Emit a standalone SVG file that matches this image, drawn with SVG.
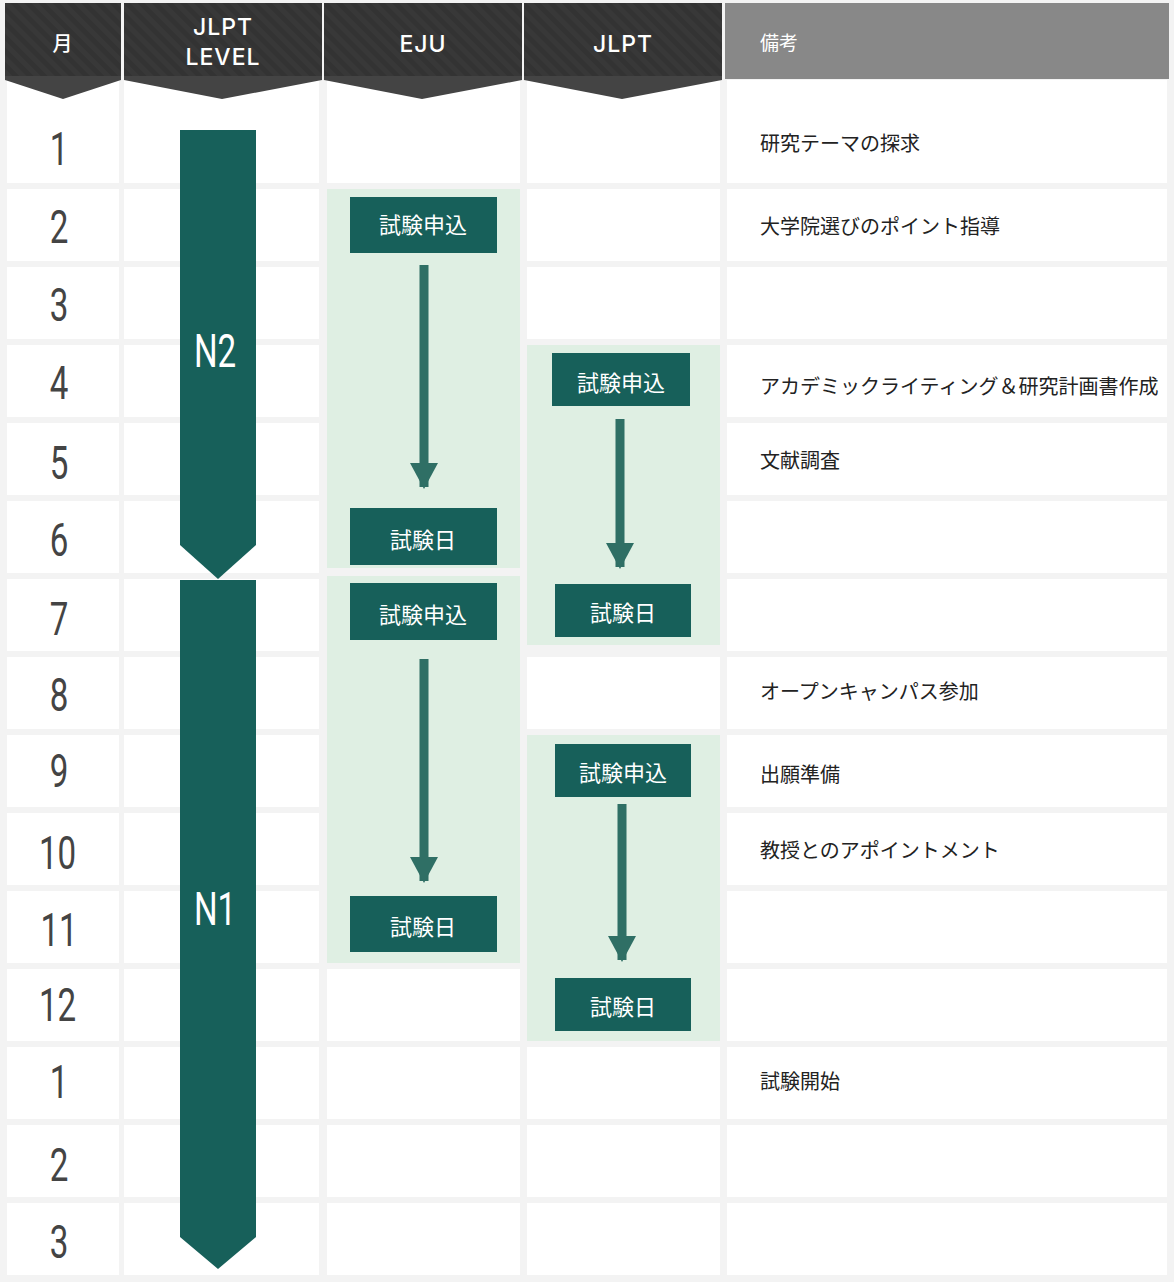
<svg xmlns="http://www.w3.org/2000/svg" width="1174" height="1282" viewBox="0 0 1174 1282">
<defs>
<pattern id="st" width="10" height="10" patternUnits="userSpaceOnUse" patternTransform="rotate(-45)"><rect width="10" height="10" fill="#333"/><rect width="5" height="10" fill="#383838"/></pattern>
<marker id="ah" markerWidth="26" markerHeight="28" refX="24" refY="14" orient="auto" markerUnits="userSpaceOnUse" viewBox="0 0 26 28"><path d="M0,0 L26,14 L0,28 Z" fill="#2f6f65"/></marker>
</defs>
<style>
.c{fill:#fff}.h{font-family:Inter,"Liberation Sans",sans-serif;font-weight:500;font-size:23px;fill:#fff;text-anchor:middle;letter-spacing:1px}
.m{font-family:Roboto,"Liberation Sans",sans-serif;font-size:46px;fill:#444;text-anchor:middle}
.band{fill:#dfefe3}.box{fill:#17605a}
.bt{font-family:"Noto Sans CJK JP",sans-serif;font-size:22px;fill:#fff;text-anchor:middle}
.n{font-family:"Noto Sans CJK JP",sans-serif;font-size:20px;fill:#222}
.ar{stroke:#2f6f65;stroke-width:9;marker-end:url(#ah)}
.lv{font-family:Roboto,"Liberation Sans",sans-serif;font-size:46px;fill:#fff;text-anchor:middle}
</style>
<rect width="1174" height="1282" fill="#f3f3f3"/>
<g id="header">
<rect x="5" y="3" width="116" height="76" fill="url(#st)"/>
<rect x="124" y="3" width="198" height="76" fill="url(#st)"/>
<rect x="324" y="3" width="198" height="76" fill="url(#st)"/>
<rect x="524" y="3" width="198" height="76" fill="url(#st)"/>
<rect x="725" y="3" width="444" height="76" fill="#888"/>
<rect x="5" y="76" width="116" height="4" fill="#444"/>
<rect x="124" y="76" width="198" height="4" fill="#444"/>
<rect x="324" y="76" width="198" height="4" fill="#444"/>
<rect x="524" y="76" width="198" height="4" fill="#444"/>
<text x="63" y="51" class="h" style="font-family:'Noto Sans CJK JP',sans-serif;font-size:20px">月</text>
<text x="223" y="35" class="h">JLPT</text><text x="223" y="65" class="h">LEVEL</text>
<text x="423" y="52" class="h">EJU</text>
<text x="623" y="52" class="h">JLPT</text>
<text x="760" y="50" style="font-family:'Noto Sans CJK JP',sans-serif;font-size:19px;fill:#fff">備考</text>
</g>
<g id="grid">
<rect x="7" y="80" width="112" height="103" class="c"/><rect x="124" y="80" width="195" height="103" class="c"/><rect x="327" y="80" width="193" height="103" class="c"/><rect x="527" y="80" width="193" height="103" class="c"/><rect x="727" y="80" width="440" height="103" class="c"/>
<rect x="7" y="189" width="112" height="72" class="c"/><rect x="7" y="267" width="112" height="72" class="c"/><rect x="7" y="345" width="112" height="72" class="c"/><rect x="7" y="423" width="112" height="72" class="c"/><rect x="7" y="501" width="112" height="72" class="c"/><rect x="7" y="579" width="112" height="72" class="c"/><rect x="7" y="657" width="112" height="72" class="c"/><rect x="7" y="735" width="112" height="72" class="c"/><rect x="7" y="813" width="112" height="72" class="c"/><rect x="7" y="891" width="112" height="72" class="c"/><rect x="7" y="969" width="112" height="72" class="c"/><rect x="7" y="1047" width="112" height="72" class="c"/><rect x="7" y="1125" width="112" height="72" class="c"/><rect x="7" y="1203" width="112" height="72" class="c"/>
<rect x="124" y="189" width="195" height="72" class="c"/><rect x="124" y="267" width="195" height="72" class="c"/><rect x="124" y="345" width="195" height="72" class="c"/><rect x="124" y="423" width="195" height="72" class="c"/><rect x="124" y="501" width="195" height="72" class="c"/><rect x="124" y="579" width="195" height="72" class="c"/><rect x="124" y="657" width="195" height="72" class="c"/><rect x="124" y="735" width="195" height="72" class="c"/><rect x="124" y="813" width="195" height="72" class="c"/><rect x="124" y="891" width="195" height="72" class="c"/><rect x="124" y="969" width="195" height="72" class="c"/><rect x="124" y="1047" width="195" height="72" class="c"/><rect x="124" y="1125" width="195" height="72" class="c"/><rect x="124" y="1203" width="195" height="72" class="c"/>
<rect x="327" y="969" width="193" height="72" class="c"/><rect x="327" y="1047" width="193" height="72" class="c"/><rect x="327" y="1125" width="193" height="72" class="c"/><rect x="327" y="1203" width="193" height="72" class="c"/>
<rect x="527" y="189" width="193" height="72" class="c"/><rect x="527" y="267" width="193" height="72" class="c"/><rect x="527" y="657" width="193" height="72" class="c"/><rect x="527" y="1047" width="193" height="72" class="c"/><rect x="527" y="1125" width="193" height="72" class="c"/><rect x="527" y="1203" width="193" height="72" class="c"/>
<rect x="727" y="189" width="440" height="72" class="c"/><rect x="727" y="267" width="440" height="72" class="c"/><rect x="727" y="345" width="440" height="72" class="c"/><rect x="727" y="423" width="440" height="72" class="c"/><rect x="727" y="501" width="440" height="72" class="c"/><rect x="727" y="579" width="440" height="72" class="c"/><rect x="727" y="657" width="440" height="72" class="c"/><rect x="727" y="735" width="440" height="72" class="c"/><rect x="727" y="813" width="440" height="72" class="c"/><rect x="727" y="891" width="440" height="72" class="c"/><rect x="727" y="969" width="440" height="72" class="c"/><rect x="727" y="1047" width="440" height="72" class="c"/><rect x="727" y="1125" width="440" height="72" class="c"/><rect x="727" y="1203" width="440" height="72" class="c"/>
<path d="M5,80 L63,99 L121,80Z" fill="#444"/>
<path d="M124,80 L222,99 L322,80Z" fill="#444"/>
<path d="M324,80 L422,99 L522,80Z" fill="#444"/>
<path d="M524,80 L622,99 L722,80Z" fill="#444"/>
</g>
<g id="months">
<g transform="scale(0.72,1)">
<text x="82" y="165" class="m">1</text><text x="82" y="243" class="m">2</text><text x="82" y="321" class="m">3</text><text x="82" y="399" class="m">4</text><text x="82" y="479" class="m">5</text><text x="82" y="556" class="m">6</text><text x="82" y="635" class="m">7</text><text x="82" y="711" class="m">8</text><text x="82" y="787" class="m">9</text><text x="80" y="869" class="m">10</text><text x="82" y="946" class="m">11</text><text x="80" y="1021" class="m">12</text><text x="82" y="1098" class="m">1</text><text x="82" y="1181" class="m">2</text><text x="82" y="1258" class="m">3</text>
</g>
</g>
<g id="bands">
<rect x="327" y="189" width="193" height="379" class="band"/>
<rect x="327" y="576" width="193" height="387" class="band"/>
<rect x="527" y="345" width="193" height="300" class="band"/>
<rect x="527" y="735" width="193" height="306" class="band"/>
</g>
<g id="level-N2"><path d="M180,130 L256,130 L256,545 L218,579 L180,545 Z" fill="#17605a"/><text transform="translate(215,367) scale(0.72,1)" class="lv">N2</text></g>
<g id="level-N1"><path d="M180,580 L256,580 L256,1237 L218,1269 L180,1237 Z" fill="#17605a"/><text transform="translate(215,925) scale(0.72,1)" class="lv">N1</text></g>
<g id="connectors">
<line x1="424" y1="265" x2="424" y2="487" class="ar"/>
<line x1="424" y1="659" x2="424" y2="881" class="ar"/>
<line x1="620" y1="419" x2="620" y2="567" class="ar"/>
<line x1="622" y1="804" x2="622" y2="960" class="ar"/>
</g>
<g id="eju1-apply"><rect x="350" y="197" width="147" height="56" class="box"/><text x="423" y="233" class="bt">試験申込</text></g>
<g id="eju1-exam"><rect x="350" y="508" width="147" height="57" class="box"/><text x="423" y="548" class="bt">試験日</text></g>
<g id="eju2-apply"><rect x="350" y="583" width="147" height="57" class="box"/><text x="423" y="623" class="bt">試験申込</text></g>
<g id="eju2-exam"><rect x="350" y="896" width="147" height="56" class="box"/><text x="423" y="935" class="bt">試験日</text></g>
<g id="jlpt1-apply"><rect x="552" y="353" width="138" height="53" class="box"/><text x="621" y="391" class="bt">試験申込</text></g>
<g id="jlpt1-exam"><rect x="555" y="584" width="136" height="53" class="box"/><text x="623" y="621" class="bt">試験日</text></g>
<g id="jlpt2-apply"><rect x="555" y="744" width="136" height="53" class="box"/><text x="623" y="781" class="bt">試験申込</text></g>
<g id="jlpt2-exam"><rect x="555" y="978" width="136" height="53" class="box"/><text x="623" y="1015" class="bt">試験日</text></g>
<g id="notes">
<text x="760" y="151" class="n">研究テーマの探求</text>
<text x="760" y="234" class="n">大学院選びのポイント指導</text>
<text x="760" y="394" class="n">アカデミックライティング＆研究計画書作成</text>
<text x="760" y="468" class="n">文献調査</text>
<text x="760" y="699" class="n">オープンキャンパス参加</text>
<text x="760" y="782" class="n">出願準備</text>
<text x="760" y="858" class="n">教授とのアポイントメント</text>
<text x="760" y="1089" class="n">試験開始</text>
</g>
</svg>
